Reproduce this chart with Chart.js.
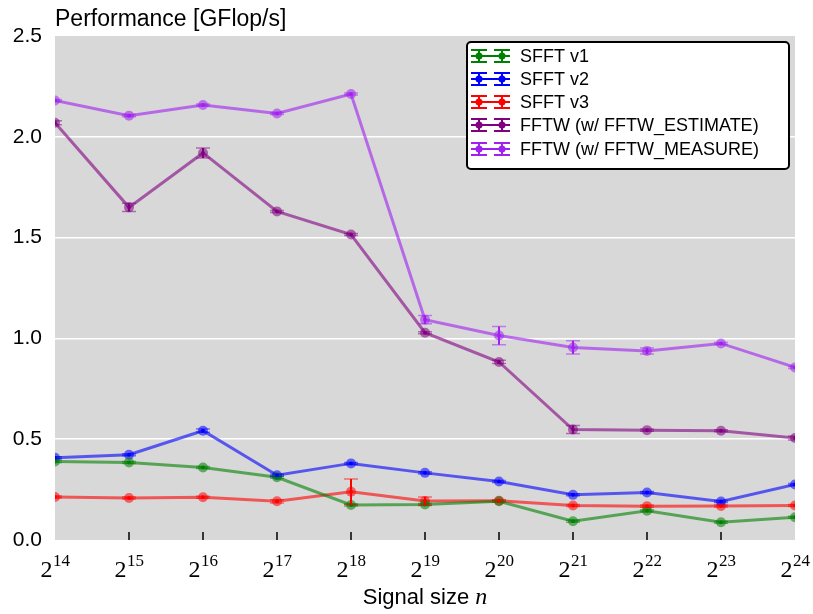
<!DOCTYPE html>
<html>
<head>
<meta charset="utf-8">
<script src="https://cdn.jsdelivr.net/npm/chart.js@4"></script>
<style>
  body { margin: 0; background: #fff; }
  canvas { display: block; }
</style>
</head>
<body>
<canvas id="perfChart" width="813" height="614"></canvas>
<script>
// signal size n = 2^k
const exponents = [14, 15, 16, 17, 18, 19, 20, 21, 22, 23, 24];
const yTicks = [0, 0.5, 1.0, 1.5, 2.0, 2.5];

// performance in GFlop/s, with error bar half widths
const sfftV1 = [0.39, 0.385, 0.36, 0.311, 0.174, 0.176, 0.192, 0.093, 0.145, 0.088, 0.113];
const sfftV1Err = [0.005, 0.005, 0.005, 0.005, 0.005, 0.005, 0.005, 0.005, 0.005, 0.005, 0.005];
const sfftV2 = [0.408, 0.423, 0.542, 0.321, 0.38, 0.333, 0.29, 0.224, 0.236, 0.191, 0.275];
const sfftV2Err = [0.005, 0.005, 0.008, 0.005, 0.005, 0.005, 0.005, 0.005, 0.005, 0.005, 0.005];
const sfftV3 = [0.213, 0.208, 0.212, 0.192, 0.239, 0.193, 0.195, 0.171, 0.168, 0.169, 0.171];
const sfftV3Err = [0.005, 0.005, 0.005, 0.008, 0.063, 0.02, 0.005, 0.005, 0.005, 0.005, 0.005];
const fftwEstimate = [2.07, 1.65, 1.92, 1.63, 1.515, 1.028, 0.883, 0.548, 0.545, 0.542, 0.506];
const fftwEstimateErr = [0.01, 0.02, 0.025, 0.005, 0.005, 0.005, 0.008, 0.02, 0.005, 0.005, 0.01];
const fftwMeasure = [2.18, 2.105, 2.158, 2.116, 2.212, 1.093, 1.014, 0.955, 0.938, 0.975, 0.856];
const fftwMeasureErr = [0.005, 0.005, 0.005, 0.005, 0.005, 0.02, 0.045, 0.033, 0.015, 0.005, 0.005];

const SANS = '"Liberation Sans", "DejaVu Sans", sans-serif';
const SERIF = '"Liberation Serif", "DejaVu Serif", serif';

function rgba(c, a) {
    return `rgba(${c[0]},${c[1]},${c[2]},${a})`;
}

function makeSet(label, data, errors, rgb) {
    return {
        label: label,
        data: data,
        errors: errors,
        rgb: rgb,
        borderColor: rgba(rgb, 0.6),
        backgroundColor: rgba(rgb, 0.6),
        borderWidth: 3,
        pointRadius: 5,
        pointBorderWidth: 0,
        pointBackgroundColor: rgba(rgb, 0.55),
        tension: 0,
        clip: 0
    };
}

const datasets = [
    makeSet('SFFT v1', sfftV1, sfftV1Err, [0, 128, 0]),
    makeSet('SFFT v2', sfftV2, sfftV2Err, [0, 0, 255]),
    makeSet('SFFT v3', sfftV3, sfftV3Err, [255, 0, 0]),
    makeSet('FFTW (w/ FFTW_ESTIMATE)', fftwEstimate, fftwEstimateErr, [128, 0, 128]),
    makeSet('FFTW (w/ FFTW_MEASURE)', fftwMeasure, fftwMeasureErr, [160, 32, 240])
];

const backgroundPlugin = {
    id: 'plotBackground',
    beforeDraw(chart) {
        const a = chart.chartArea;
        const ctx = chart.ctx;
        ctx.save();
        ctx.fillStyle = '#d8d8d8';
        ctx.fillRect(a.left, a.top, a.right - a.left, a.bottom - a.top);
        ctx.restore();
    }
};

const errorBarPlugin = {
    id: 'errorBars',
    afterDatasetsDraw(chart) {
        const ctx = chart.ctx;
        const a = chart.chartArea;
        const y = chart.scales.y;
        ctx.save();
        ctx.beginPath();
        ctx.rect(a.left, a.top, a.right - a.left, a.bottom - a.top);
        ctx.clip();
        chart.data.datasets.forEach((ds, i) => {
            const meta = chart.getDatasetMeta(i);
            meta.data.forEach((pt, j) => {
                const top = y.getPixelForValue(ds.data[j] + ds.errors[j]);
                const bot = y.getPixelForValue(ds.data[j] - ds.errors[j]);
                ctx.strokeStyle = rgba(ds.rgb, 1);
                ctx.lineWidth = 2;
                ctx.beginPath();
                ctx.moveTo(pt.x, top);
                ctx.lineTo(pt.x, bot);
                ctx.stroke();
                ctx.strokeStyle = rgba(ds.rgb, 0.5);
                ctx.lineWidth = 1.5;
                ctx.beginPath();
                ctx.moveTo(pt.x - 7, top);
                ctx.lineTo(pt.x + 7, top);
                ctx.moveTo(pt.x - 7, bot);
                ctx.lineTo(pt.x + 7, bot);
                ctx.stroke();
                ctx.fillStyle = rgba(ds.rgb, 0.8);
                ctx.beginPath();
                ctx.arc(pt.x, pt.y, 2, 0, Math.PI * 2);
                ctx.fill();
            });
        });
        ctx.restore();
    }
};

const decorPlugin = {
    id: 'decor',
    afterDraw(chart) {
        const ctx = chart.ctx;
        const a = chart.chartArea;
        const x = chart.scales.x;
        ctx.save();

        // inner tick marks and 2^k labels
        exponents.forEach((e, i) => {
            const px = x.getPixelForValue(i);
            if (i > 0 && i < exponents.length - 1) {
                ctx.strokeStyle = '#000';
                ctx.lineWidth = 1.5;
                ctx.beginPath();
                ctx.moveTo(px, a.bottom - 8);
                ctx.lineTo(px, a.bottom);
                ctx.stroke();
            }
            ctx.fillStyle = '#000';
            ctx.textBaseline = 'alphabetic';
            ctx.font = '24px ' + SERIF;
            const wBase = ctx.measureText('2').width;
            ctx.font = '17px ' + SERIF;
            const wExp = ctx.measureText(String(e)).width;
            const left = px - (wBase + wExp) / 2;
            ctx.font = '24px ' + SERIF;
            ctx.textAlign = 'left';
            ctx.fillText('2', left, 577);
            ctx.font = '17px ' + SERIF;
            ctx.fillText(String(e), left + wBase + 0.5, 566);
        });

        // axis titles
        ctx.fillStyle = '#000';
        ctx.textAlign = 'left';
        ctx.font = '23px ' + SANS;
        ctx.fillText('Performance [GFlop/s]', 55, 26);

        const t1 = 'Signal size ';
        ctx.font = '22px ' + SANS;
        const w1 = ctx.measureText(t1).width;
        ctx.font = 'italic 24px ' + SERIF;
        const w2 = ctx.measureText('n').width;
        const cx = (a.left + a.right) / 2;
        const start = cx - (w1 + w2) / 2;
        ctx.font = '22px ' + SANS;
        ctx.fillText(t1, start, 604);
        ctx.font = 'italic 24px ' + SERIF;
        ctx.fillText('n', start + w1, 604);

        // legend box
        const bx = 467, by = 42, bw = 322, bh = 127;
        ctx.fillStyle = '#fff';
        ctx.strokeStyle = '#000';
        ctx.lineWidth = 2;
        ctx.beginPath();
        ctx.roundRect(bx, by, bw, bh, 4);
        ctx.fill();
        ctx.stroke();

        const rows = [56, 79, 102, 125, 149];
        chart.data.datasets.forEach((ds, i) => {
            const ry = rows[i];
            const col = rgba(ds.rgb, 1);
            ctx.strokeStyle = col;
            ctx.fillStyle = col;
            ctx.lineWidth = 2;
            ctx.beginPath();
            ctx.moveTo(471, ry);
            ctx.lineTo(510, ry);
            [479, 502].forEach(gx => {
                ctx.moveTo(gx, ry - 6);
                ctx.lineTo(gx, ry + 6);
                ctx.moveTo(gx - 8, ry - 6);
                ctx.lineTo(gx + 8, ry - 6);
                ctx.moveTo(gx - 8, ry + 6);
                ctx.lineTo(gx + 8, ry + 6);
            });
            ctx.stroke();
            [479, 502].forEach(gx => {
                ctx.beginPath();
                ctx.arc(gx, ry, 3.5, 0, Math.PI * 2);
                ctx.fill();
            });
            ctx.fillStyle = '#000';
            ctx.font = '18px ' + SANS;
            ctx.textBaseline = 'middle';
            ctx.fillText(ds.label, 520, ry + 1);
        });
        ctx.restore();
    }
};

new Chart(document.getElementById('perfChart'), {
    type: 'line',
    data: {
        labels: exponents.map(e => '2^' + e),
        datasets: datasets
    },
    options: {
        responsive: false,
        animation: false,
        devicePixelRatio: 1,
        layout: { padding: { top: 36, right: 18, left: 0, bottom: 0 } },
        plugins: {
            legend: { display: false },
            title: { display: false },
            tooltip: { enabled: false }
        },
        scales: {
            x: {
                type: 'category',
                offset: false,
                grid: { display: false },
                border: { display: false },
                ticks: { display: false },
                afterFit(scale) { scale.height = 74; }
            },
            y: {
                min: 0,
                max: 2.5,
                afterBuildTicks(scale) {
                    scale.ticks = yTicks.map(v => ({ value: v }));
                },
                ticks: {
                    padding: 13,
                    color: '#000',
                    font: { family: SANS, size: 21 },
                    callback: v => Number(v).toFixed(1)
                },
                grid: {
                    drawTicks: false,
                    lineWidth: 1.5,
                    color: ctx => (ctx.tick && (ctx.tick.value === 0 || ctx.tick.value === 2.5)) ? 'rgba(0,0,0,0)' : '#ffffff'
                },
                border: { display: false },
                afterFit(scale) { scale.width = 55; }
            }
        }
    },
    plugins: [backgroundPlugin, errorBarPlugin, decorPlugin]
});
</script>
</body>
</html>
